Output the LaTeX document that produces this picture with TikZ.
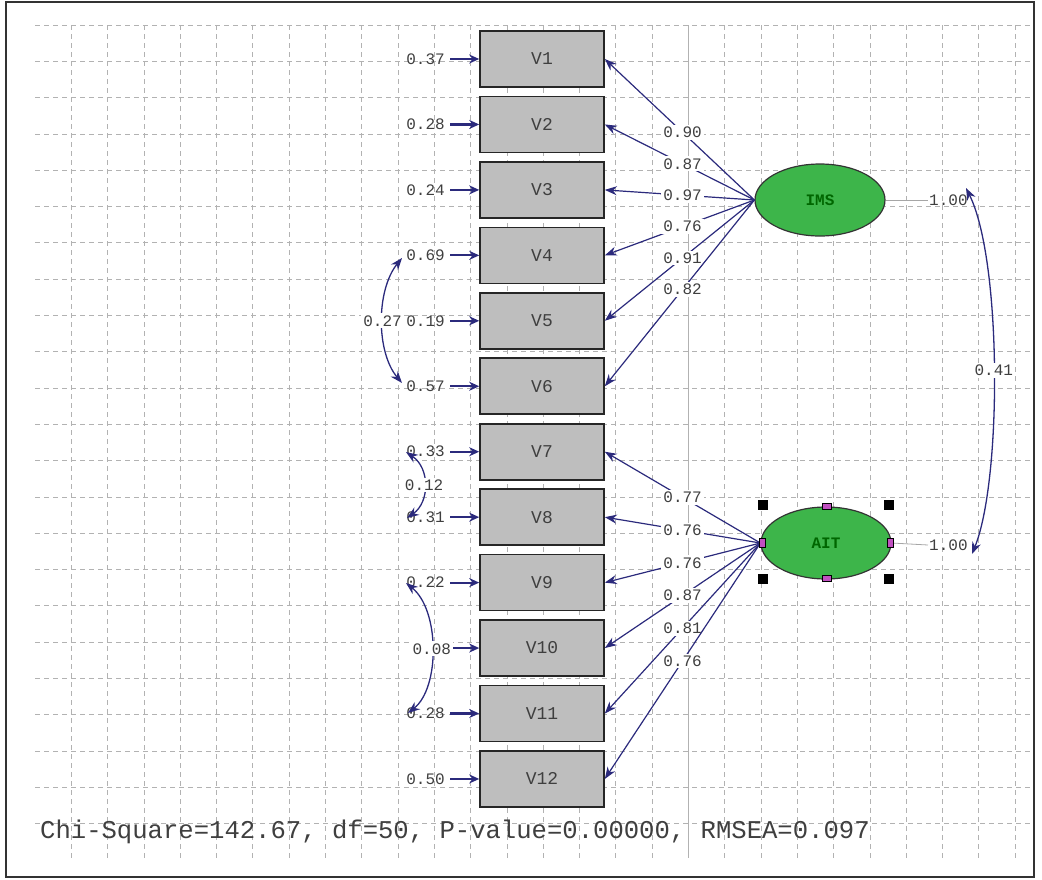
\documentclass[tikz,border=0pt]{standalone}
\usepackage{fontspec}
\setmonofont{Liberation Mono}
\usetikzlibrary{arrows.meta,shapes.geometric}
\definecolor{arr}{HTML}{2B2A7C}
\definecolor{lbl}{HTML}{3F3F3F}
\definecolor{boxfill}{HTML}{BEBEBE}
\definecolor{ellfill}{HTML}{3DB54A}
\definecolor{handlemag}{HTML}{C050C0}
\newcommand{\smallmono}{\ttfamily\fontsize{16}{16}\selectfont}
\tikzset{
  obs/.style={draw=black!85, line width=1.6pt, fill=boxfill, minimum width=124pt, minimum height=56pt, inner sep=0pt, font=\ttfamily\fontsize{18}{18}\selectfont, text=lbl},
  lat/.style={ellipse, draw=black!80, line width=1.2pt, fill=ellfill, minimum width=130pt, minimum height=72pt, inner sep=0pt, font=\ttfamily\bfseries\fontsize{16}{16}\selectfont, text=green!40!black},
  errlbl/.style={anchor=east, font=\smallmono, text=lbl, inner sep=1pt},
  coef/.style={font=\smallmono, text=lbl, fill=white, inner sep=2pt},
  onelbl/.style={anchor=west, font=\smallmono, text=lbl, inner sep=1pt},
  path/.style={draw=arr, line width=1.2pt, -{Stealth[length=12pt,width=9pt]}},
  errpath/.style={draw=arr, line width=2.2pt, -{Stealth[length=10pt,width=9pt]}},
  dpath/.style={draw=arr, line width=1.3pt, {Stealth[length=12pt,width=9pt]}-{Stealth[length=12pt,width=9pt]}},
  gridline/.style={draw=black!30, dash pattern=on 5pt off 4pt, line width=0.8pt},
  handle/.style={fill=black, minimum size=10pt, inner sep=0pt},
  mhandle/.style={fill=handlemag, draw=black, line width=1pt, minimum width=9pt, minimum height=6pt, inner sep=0pt},
}
\begin{document}
\begin{tikzpicture}[x=1pt,y=-1pt]
\useasboundingbox (0,0) rectangle (1042,879);
% frame
\draw[black!80, line width=1.2pt] (6,2) rectangle (1034,877);
% grid
\foreach \k in {0,...,22} {\draw[gridline] (35,25+36.3*\k) -- (1030,25+36.3*\k);}
\foreach \k in {1,...,27} {\draw[gridline] (35+36.3*\k,25) -- (35+36.3*\k,858);}
\draw[black!30, line width=0.8pt] (688,25) -- (688,858);
% observed variables
\foreach \i/\v in {1/0.37,2/0.28,3/0.24,4/0.69,5/0.19,6/0.57,7/0.33,8/0.31,9/0.22,10/,11/0.28,12/0.50} {
  \node[obs] (v\i) at (542,59+65.45*\i-65.45) {V\i};
  \node[errlbl] (e\i) at (446,59+65.45*\i-65.45) {\v};
  \path (446,59+65.45*\i-65.45) ++(4,0) coordinate (t\i);
  \draw[errpath] (t\i) -- (v\i.west);
}
% latent variables
\node[lat] (ims) at (820,200) {IMS};
\node[lat] (ait) at (826,543) {AIT};
% loadings
\foreach \i/\c in {1/0.90,2/0.87,3/0.97,4/0.76,5/0.91,6/0.82} {
  \draw[path] (ims.west) -- node[coef,pos=0.48] {\c} (v\i.east);
}
\foreach \i/\c in {7/0.77,8/0.76,9/0.76,10/0.87,11/0.81,12/0.76} {
  \draw[path] (ait.west) -- node[coef,pos=0.5] {\c} (v\i.east);
}
% variances of latent variables
\node[onelbl] (one1) at (928,200) {1.00};
\node[onelbl] (one2) at (928,545) {1.00};
\draw[black!35, line width=0.8pt] (ims.east) -- (one1.west);
\draw[black!35, line width=0.8pt] (ait.east) -- (one2.west);
\coordinate (c1) at (966,188);
\coordinate (c2) at (972,554);
\draw[dpath] (c1) .. controls (1002,260) and (1002,480) .. node[coef] (r41) {0.41} (c2);
% error covariances
\coordinate (a4) at (402,258);
\coordinate (a6) at (402,383);
\draw[dpath] (a4) .. controls (376,290) and (376,352) .. node[coef] (r27) {0.27} (a6);
\coordinate (a7) at (406,452);
\coordinate (a8) at (407,518);
\draw[dpath] (a7) .. controls (430,468) and (430,502) .. node[coef] (r12) {0.12} (a8);
\coordinate (a9) at (406,583);
\coordinate (a11) at (408,713);
\draw[dpath] (a9) .. controls (440,610) and (440,688) .. node[coef] (r08) {0.08} (a11);
% selection handles around AIT
\node[handle] (h1) at (763,505) {};
\node[handle] (h2) at (889,505) {};
\node[handle] (h3) at (763,579) {};
\node[handle] (h4) at (889,579) {};
\node[mhandle] (h5) at (827,506) {};
\node[mhandle] (h6) at (827,578) {};
\node[mhandle, minimum width=6pt, minimum height=9pt] (h7) at (762,543) {};
\node[mhandle, minimum width=6pt, minimum height=9pt] (h8) at (890,543) {};
% fit statistics
\node[anchor=west, font=\ttfamily\fontsize{25.6}{26}\selectfont, text=lbl, inner sep=0pt] (fit) at (40,832) {Chi-Square=142.67, df=50, P-value=0.00000, RMSEA=0.097};
\end{tikzpicture}
\end{document}
